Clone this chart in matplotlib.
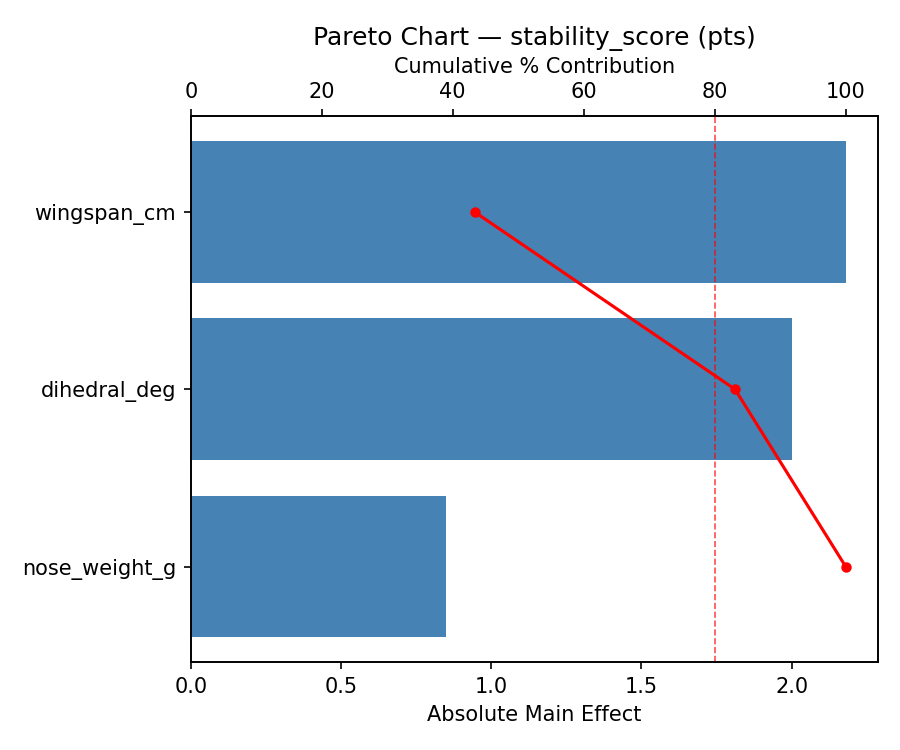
import matplotlib
matplotlib.use("Agg")
import matplotlib.pyplot as plt
import numpy as np

factors = ["wingspan_cm", "dihedral_deg", "nose_weight_g"]
effects = [2.18, 2.0, 0.85]
threshold_pct = 80

eff = np.array(effects)
cum_pct = np.cumsum(eff) / eff.sum() * 100
ypos = np.arange(len(factors))

fig, ax = plt.subplots(figsize=(6, 5), dpi=150)
ax.barh(ypos, eff, height=0.8, color="steelblue")
ax.set_yticks(ypos)
ax.set_yticklabels(factors)
ax.invert_yaxis()
ax.set_xlim(0, eff.max() * 1.05)
ax.set_xlabel("Absolute Main Effect")

ax2 = ax.twiny()
ax2.plot(cum_pct, ypos, color="red", marker="o", markersize=4)
ax2.axvline(threshold_pct, color="red", ls="--", lw=0.8, alpha=0.7)
ax2.set_xlim(0, 105)
ax2.set_xlabel("Cumulative % Contribution")
ax2.set_title("Pareto Chart — stability_score (pts)")

fig.subplots_adjust(left=0.212, right=0.976, top=0.845, bottom=0.117)
fig.savefig("out.png", dpi=150)
